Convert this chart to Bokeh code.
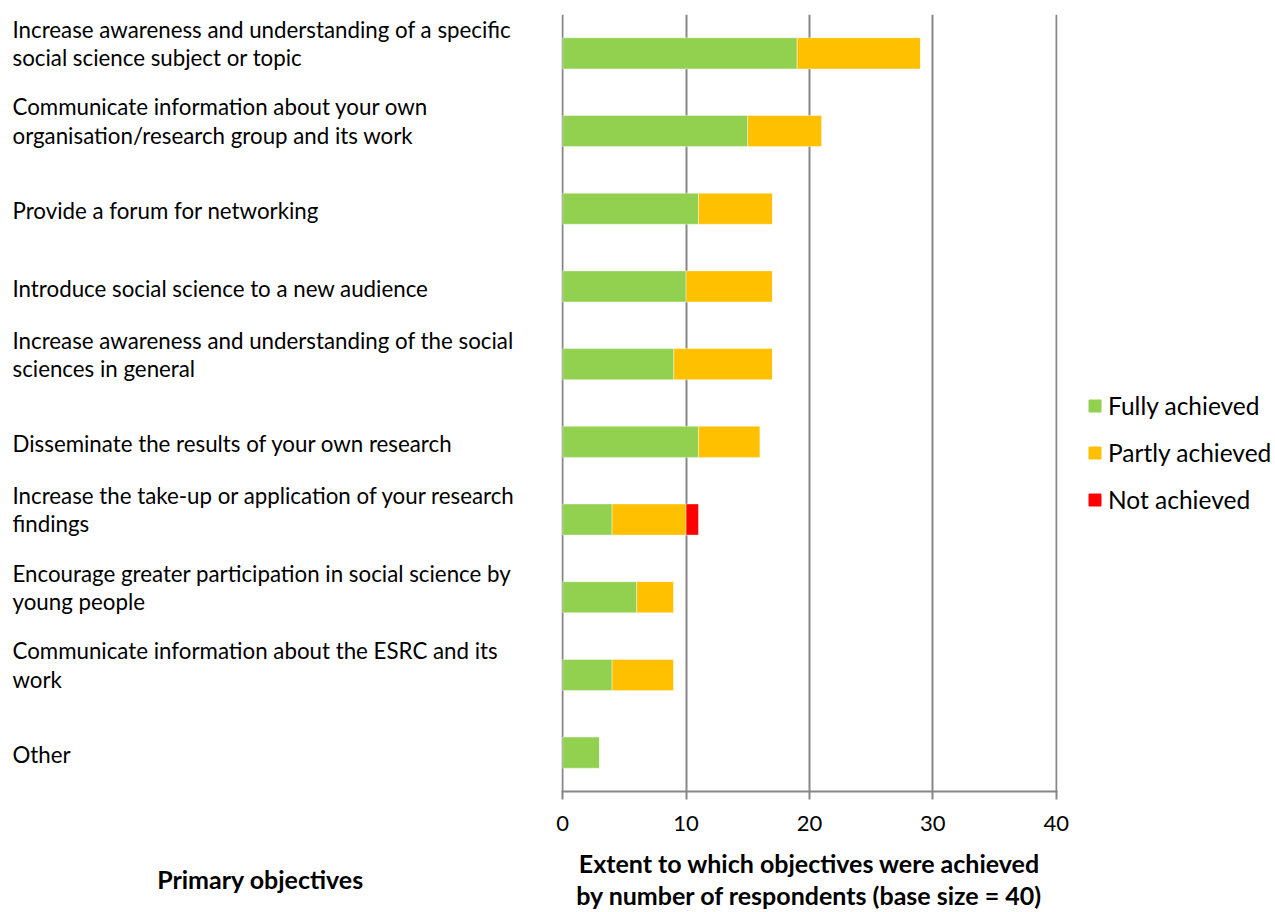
from bokeh.plotting import figure
from bokeh.layouts import row
from bokeh.models import (ColumnDataSource, Range1d, FixedTicker, Legend, LegendItem)
from bokeh.core.properties import value
from bokeh.embed import file_html
from bokeh.resources import INLINE

# ---- data ----
objectives = [
    "Increase awareness and understanding of a specific\nsocial science subject or topic",
    "Communicate information about your own\norganisation/research group and its work",
    "Provide a forum for networking",
    "Introduce social science to a new audience",
    "Increase awareness and understanding of the social\nsciences in general",
    "Disseminate the results of your own research",
    "Increase the take-up or application of your research\nfindings",
    "Encourage greater participation in social science by\nyoung people",
    "Communicate information about the ESRC and its\nwork",
    "Other",
]
fully_achieved = [19, 15, 11, 10, 9, 11, 4, 6, 4, 3]
partly_achieved = [10, 6, 6, 7, 8, 5, 6, 3, 5, 0]
not_achieved = [0, 0, 0, 0, 0, 0, 1, 0, 0, 0]
series_names = ["Fully achieved", "Partly achieved", "Not achieved"]
series_colors = ["#92D050", "#FFC000", "#FF0000"]
x_ticks = [0, 10, 20, 30, 40]
left_title = "Primary objectives"
axis_title = "Extent to which objectives were achieved\nby number of respondents (base size = 40)"

FONT = "Lato"
H = 912
TOP, BOTTOM = 14, 795          # plot frame top / bottom (px)
LEFT_W, MAIN_W, LEG_W = 545, 542, 188
n = len(objectives)
stackers = ["full", "partly", "nota"]

src = ColumnDataSource(dict(
    y=list(range(n)),
    full=fully_achieved,
    partly=partly_achieved,
    nota=not_achieved,
))
y_range = Range1d(n - 0.5, -0.5)

# ---------------- main chart ----------------
p = figure(width=MAIN_W, height=H, output_backend="svg", toolbar_location=None,
           x_range=Range1d(-0.1, 40.1), y_range=y_range,
           y_axis_location=None,
           min_border_left=16, min_border_right=30, min_border_top=TOP,
           min_border_bottom=H - BOTTOM)
p.outline_line_color = None
p.border_fill_color = "white"

p.hbar_stack(stackers, y="y", height=0.4, color=series_colors, source=src,
             line_color="white", line_alpha=0.5, line_width=0.8)

p.ygrid.visible = False
p.xgrid.ticker = FixedTicker(ticks=x_ticks)
p.xgrid.grid_line_color = "#868686"
p.xgrid.grid_line_width = 2
p.xaxis.ticker = FixedTicker(ticks=x_ticks)
p.xaxis.axis_line_color = "#868686"
p.xaxis.axis_line_width = 2
p.xaxis.major_tick_line_color = "#868686"
p.xaxis.major_tick_line_width = 2
p.xaxis.major_tick_out = 8
p.xaxis.major_tick_in = 0
p.xaxis.minor_tick_line_color = None
p.xaxis.major_label_text_font = FONT
p.xaxis.major_label_text_font_size = "22px"
p.xaxis.major_label_text_color = "#000000"
p.xaxis.major_label_standoff = 16
p.xaxis.axis_label = axis_title
p.xaxis.axis_label_text_font = FONT
p.xaxis.axis_label_text_font_size = "25px"
p.xaxis.axis_label_text_font_style = "bold"
p.xaxis.axis_label_text_color = "#000000"
p.xaxis.axis_label_text_line_height = 32 / (25 * 1.2)
p.xaxis.axis_label_standoff = 14

# ---------------- left: category labels ----------------
lf = figure(width=LEFT_W, height=H, output_backend="svg", toolbar_location=None,
            x_range=Range1d(0, LEFT_W - 25), y_range=y_range,
            y_axis_location=None,
            min_border_left=0, min_border_right=25,
            min_border_top=TOP, min_border_bottom=H - BOTTOM)
lf.outline_line_color = None
lf.grid.visible = False
FS = 22.3
lab_src = ColumnDataSource(dict(
    y=list(range(n)),
    text=objectives,
    yoff=[-(12 * t.count("\n") - 2) for t in objectives],
))
lf.text(x=12, y="y", text="text", y_offset="yoff", source=lab_src,
        text_align="left", text_baseline="middle",
        text_font=value(FONT), text_font_size=value(f"{FS}px"),
        text_line_height=28 / (FS * 1.2), text_color="#000000")
# x-axis used only to carry the "Primary objectives" caption
lf.xaxis.ticker = FixedTicker(ticks=[])
lf.xaxis.axis_line_color = None
lf.xaxis.major_tick_out = 0
lf.xaxis.major_tick_in = 0
lf.xaxis.minor_tick_line_color = None
lf.xaxis.major_label_standoff = 0
lf.xaxis.axis_label = left_title
lf.xaxis.axis_label_text_font = FONT
lf.xaxis.axis_label_text_font_size = "25px"
lf.xaxis.axis_label_text_font_style = "bold"
lf.xaxis.axis_label_text_color = "#000000"
lf.xaxis.axis_label_standoff = 72

# ---------------- right: legend ----------------
lg = figure(width=LEG_W, height=H, output_backend="svg", toolbar_location=None,
            x_range=Range1d(0, 40), y_range=y_range,
            x_axis_location=None, y_axis_location=None,
            min_border_left=0, min_border_right=0,
            min_border_top=TOP, min_border_bottom=H - BOTTOM)
lg.outline_line_color = None
lg.grid.visible = False
leg_rs = lg.hbar_stack(stackers, y="y", height=0.4, color=series_colors, source=src)
for r in leg_rs:
    r.visible = False
legend = Legend(items=[LegendItem(label=nm, renderers=[r]) for nm, r in zip(series_names, leg_rs)],
                location=(0, 277), orientation="vertical",
                glyph_width=15, glyph_height=15, label_height=29, spacing=18,
                label_standoff=6, padding=0, margin=0,
                border_line_color=None, background_fill_alpha=0,
                inactive_fill_alpha=0,
                label_text_font=FONT, label_text_font_size="24.5px",
                label_text_color="#000000")
lg.add_layout(legend)

layout = row(lf, p, lg, spacing=0)
open("out.html", "w").write(file_html(layout, INLINE))
